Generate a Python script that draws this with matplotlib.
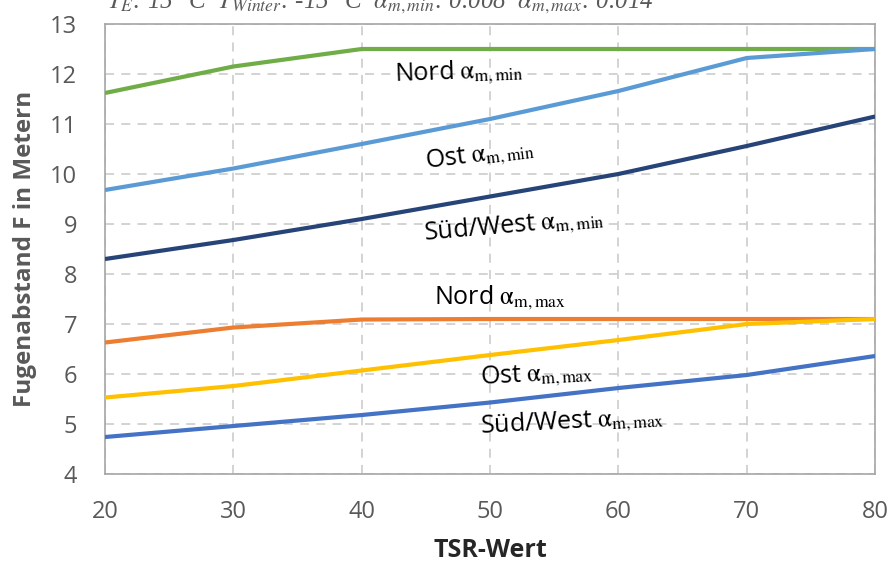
import matplotlib
matplotlib.use('Agg')
import matplotlib.pyplot as plt

# TSR values and joint spacing F (m)
tsr = [20, 30, 40, 50, 60, 70, 80]
nord_min = [11.62, 12.15, 12.5, 12.5, 12.5, 12.5, 12.5]
ost_min = [9.68, 10.11, 10.6, 11.1, 11.66, 12.32, 12.5]
sw_min = [8.3, 8.68, 9.1, 9.55, 10.0, 10.56, 11.15]
nord_max = [6.63, 6.93, 7.09, 7.1, 7.1, 7.1, 7.1]
ost_max = [5.53, 5.76, 6.07, 6.38, 6.68, 7.0, 7.1]
sw_max = [4.74, 4.96, 5.18, 5.43, 5.72, 5.98, 6.36]

series = [
    (nord_min, '#70AD47', r'Nord $\mathrm{\alpha_{m,min}}$', (47.6, 12.04), 2),
    (ost_min, '#5B9BD5', r'Ost $\mathrm{\alpha_{m,min}}$', (49.2, 10.36), 7),
    (sw_min, '#264478', r'Süd/West $\mathrm{\alpha_{m,min}}$', (51.9, 8.96), 5),
    (nord_max, '#ED7D31', r'Nord $\mathrm{\alpha_{m,max}}$', (50.8, 7.52), 0),
    (ost_max, '#FFC000', r'Ost $\mathrm{\alpha_{m,max}}$', (53.6, 5.98), 3),
    (sw_max, '#4472C4', r'Süd/West $\mathrm{\alpha_{m,max}}$', (56.4, 5.04), 3),
]

plt.rcParams['mathtext.fontset'] = 'stix'

fig = plt.figure(figsize=(8.92, 5.66), dpi=100)
ax = fig.add_axes([0.1177, 0.1625, 0.8633, 0.7951])

for vals, color, label, pos, rot in series:
    ax.plot(tsr, vals, color=color, linewidth=3, solid_capstyle='butt', zorder=3)
    ax.text(pos[0], pos[1], label, fontsize=18, family='Open Sans', color='black',
            ha='center', va='center', rotation=rot, zorder=4)

ax.set_xlim(20, 80)
ax.set_ylim(4, 13)
ax.set_xticks(range(20, 81, 10))
ax.set_yticks(range(4, 14))
ax.grid(True, color='#D0D0D0', linestyle=(0, (5, 4)), linewidth=1.3, zorder=1)
for sp in ax.spines.values():
    sp.set_color('#A6A6A6')
    sp.set_linewidth(1.2)
ax.tick_params(axis='y', length=0, labelsize=17, labelcolor='#595959', pad=20)
ax.tick_params(axis='x', length=0, labelsize=17, labelcolor='#595959', pad=19)
for lab in ax.get_xticklabels() + ax.get_yticklabels():
    lab.set_family('Open Sans')

ax.set_xlabel('TSR-Wert', fontsize=18, fontweight='bold', color='#262626',
              family='Open Sans', labelpad=10)
ax.set_ylabel('Fugenabstand F in Metern', fontsize=17.5, fontweight='bold', color='#595959',
              family='Open Sans', labelpad=9)

fig.text(0.12, 0.986,
         r'$T_E$: 15 °C  $T_{Winter}$: -15 °C  $\alpha_{m,min}$: 0.008  $\alpha_{m,max}$: 0.014',
         fontsize=18, style='italic', family='Liberation Serif', color='#595959',
         ha='left', va='baseline')

fig.savefig('out.png', dpi=100)
